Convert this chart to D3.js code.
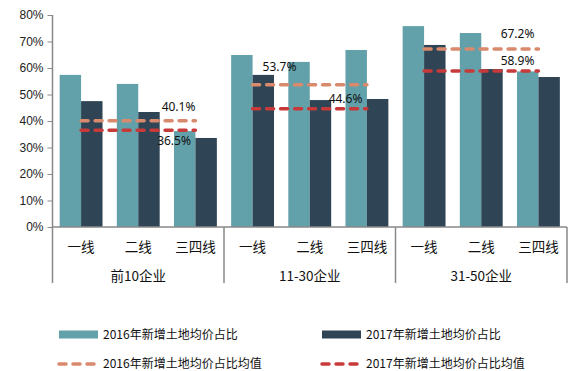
<!DOCTYPE html>
<html>
<head>
<meta charset="utf-8">
<script src="https://cdn.jsdelivr.net/npm/d3@7"></script>
<style>
  body { margin: 0; background: #fff; }
  svg { display: block; font-family: "Noto Sans", "Noto Sans CJK SC", sans-serif; }
</style>
</head>
<body>
<svg id="chart" width="582" height="371"></svg>
<script>
// data
const groups = ["前10企业", "11-30企业", "31-50企业"]
const cats = ["一线", "二线", "三四线"]
const series = ["2016年新增土地均价占比", "2017年新增土地均价占比"]
const avgSeries = ["2016年新增土地均价占比均值", "2017年新增土地均价占比均值"]
const v2016 = [[57.4, 54.0, 36.2], [64.9, 62.3, 66.8], [75.8, 73.2, 58.7]]
const v2017 = [[47.5, 43.4, 33.6], [57.4, 47.9, 48.3], [68.7, 59.6, 56.6]]
const avg2016 = [40.1, 53.7, 67.2]
const avg2017 = [36.5, 44.6, 58.9]
const yTicks = [0, 10, 20, 30, 40, 50, 60, 70, 80]

const barColors = ["#62a0aa", "#2f4555"]
const avgColors = ["#d9896c", "#c83a3a"]
const axisColor = "#898989"

// where each avg label sits relative to its line: [side, dx, dy]
const labelPos = [
  [["end", 0, -10], ["end", -4.5, 15]],
  [["start", 10, -14], ["end", -4.5, -6]],
  [["end", -4, -11], ["end", -4, -6]]
]

const svg = d3.select("#chart")
const mLeft = 52.5, mRight = 567, mTop = 15, mBottom = 227, catBottom = 283

let y = d3.scaleLinear().domain([0, 80]).range([mBottom, mTop])
let x0 = d3.scaleBand().domain(groups).range([mLeft, mRight])
let x1 = d3.scaleBand().domain(cats).range([0, x0.bandwidth()])
let x2 = d3.scaleBand().domain([0, 1]).range([x1.bandwidth() * 0.125, x1.bandwidth() * 0.875])

// bars
groups.forEach((gName, gi) => {
  let g = svg.append("g").attr("transform", `translate(${x0(gName)},0)`)
  cats.forEach((c, ci) => {
    [v2016[gi][ci], v2017[gi][ci]].forEach((v, si) => {
      g.append("rect")
        .attr("x", x1(c) + x2(si))
        .attr("y", y(v))
        .attr("width", x2.bandwidth())
        .attr("height", mBottom - y(v))
        .attr("fill", barColors[si])
    })
  })
})

// axis y
let yAxis = svg.append("g").attr("transform", `translate(${mLeft},0)`)
  .call(d3.axisLeft(y).tickValues(yTicks).tickSize(5).tickFormat(d => d + "%"))
yAxis.select(".domain").remove()
yAxis.selectAll("line").attr("stroke", axisColor)
yAxis.selectAll("text").attr("font-size", 12).attr("fill", "#222").attr("x", -9)

svg.append("line").attr("x1", mLeft).attr("x2", mLeft).attr("y1", mTop).attr("y2", catBottom)
  .attr("stroke", axisColor).attr("stroke-width", 1.5)
svg.append("line").attr("x1", mLeft).attr("x2", mRight).attr("y1", mBottom).attr("y2", mBottom)
  .attr("stroke", axisColor).attr("stroke-width", 1.5)

// category labels + group separators
groups.forEach((gName, gi) => {
  let gx = x0(gName)
  svg.append("line").attr("x1", gx + x0.bandwidth()).attr("x2", gx + x0.bandwidth())
    .attr("y1", mBottom).attr("y2", catBottom).attr("stroke", axisColor).attr("stroke-width", 1.5)
  cats.forEach(c => {
    svg.append("text").attr("x", gx + x1(c) + x1.bandwidth() / 2).attr("y", 252)
      .attr("text-anchor", "middle").attr("font-size", 13.5).attr("fill", "#111")
      .attr("font-family", "Noto Sans CJK SC").text(c)
  })
  svg.append("text").attr("x", gx + x0.bandwidth() / 2).attr("y", 281)
    .attr("text-anchor", "middle").attr("font-size", 13.5).attr("fill", "#111")
    .attr("font-family", "Noto Sans CJK SC").text(gName)
})

// average lines
groups.forEach((gName, gi) => {
  let xa = x0(gName) + x1(cats[0]) + x1.bandwidth() / 2
  let xb = x0(gName) + x1(cats[cats.length - 1]) + x1.bandwidth() / 2;
  [avg2016[gi], avg2017[gi]].forEach((v, si) => {
    svg.append("line").attr("x1", xa).attr("x2", xb).attr("y1", y(v)).attr("y2", y(v))
      .attr("stroke", avgColors[si]).attr("stroke-width", 3.5)
      .attr("stroke-dasharray", "7,7").attr("stroke-linecap", "round")
  })
  ;[avg2016[gi], avg2017[gi]].forEach((v, si) => {
    let p = labelPos[gi][si]
    svg.append("text")
      .attr("x", (p[0] == "end" ? xb : xa) + p[1])
      .attr("y", y(v) + p[2])
      .attr("text-anchor", p[0]).attr("font-size", 12).attr("fill", "#111")
      .text(v.toFixed(1) + "%")
  })
})

// legend
let legend = svg.append("g").attr("font-size", 12).attr("font-family", "Noto Sans CJK SC")
let legX = [59, 322], legTextX = [103, 366]
series.forEach((s, i) => {
  legend.append("rect").attr("x", legX[i]).attr("y", 330.5).attr("width", 39).attr("height", 8)
    .attr("fill", barColors[i])
  legend.append("text").attr("x", legTextX[i]).attr("y", 338.5).attr("fill", "#111").text(s)
})
avgSeries.forEach((s, i) => {
  legend.append("line").attr("x1", legX[i]).attr("x2", legX[i] + 37).attr("y1", 364).attr("y2", 364)
    .attr("stroke", avgColors[i]).attr("stroke-width", 3.5)
    .attr("stroke-dasharray", "7,7").attr("stroke-linecap", "round")
  legend.append("text").attr("x", legTextX[i]).attr("y", 368).attr("fill", "#111").text(s)
})
</script>
</body>
</html>
